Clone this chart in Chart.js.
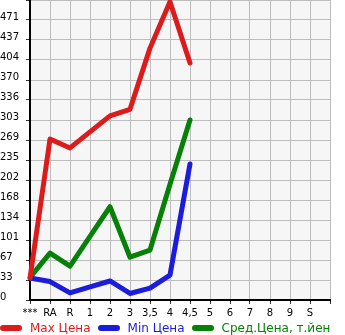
<!DOCTYPE html>
<html>
<head>
<meta charset="utf-8">
<script src="https://cdn.jsdelivr.net/npm/chart.js@4/dist/chart.umd.min.js"></script>
<style>
  html, body { margin: 0; padding: 0; background: #fff; }
  #wrap { position: relative; width: 345px; height: 335px; overflow: hidden; }
  #legend {
    position: absolute; left: 0; top: 320px; height: 15px;
    display: flex; align-items: center; white-space: nowrap;
    font: 12px "DejaVu Sans", sans-serif;
  }
  .pill { width: 22px; height: 6px; border-radius: 3px; margin-right: 8px; flex: none; }
  .lbl { margin-right: 7px; }
</style>
</head>
<body>
<div id="wrap">
  <canvas id="chart" width="345" height="335"></canvas>
  <div id="legend"></div>
</div>
<script>
var categories = ['***', 'RA', 'R', '1', '2', '3', '3,5', '4', '4,5', '5', '6', '7', '8', '9', 'S', ''];
var maxPrice = [37, 271, 256, 283, 310, 321, 424, 502, 399, null, null, null, null, null, null, null];
var minPrice = [37, 31, 12, 22, 32, 11, 20, 42, 229, null, null, null, null, null, null, null];
var avgPrice = [38, 79, 57, 107, 157, 72, 84, 195, 303, null, null, null, null, null, null, null];
var yTickLabels = ['0', '33', '67', '101', '134', '168', '202', '235', '269', '303', '336', '370', '404', '437', '471', ''];
var yMax = 505;

var series = [
  { label: 'Max Цена', data: maxPrice, color: '#dc1c1c' },
  { label: 'Min Цена', data: minPrice, color: '#1c1cdc' },
  { label: 'Сред.Цена, т.йен', data: avgPrice, color: '#068006' }
];

// plot background
var bgPlugin = {
  id: 'plotBg',
  beforeDraw: function(chart) {
    var a = chart.chartArea, ctx = chart.ctx;
    ctx.save();
    ctx.fillStyle = '#f6f6f6';
    ctx.fillRect(a.left, a.top, a.right - a.left, a.bottom - a.top);
    ctx.restore();
  }
};

new Chart(document.getElementById('chart').getContext('2d'), {
  type: 'line',
  data: {
    labels: categories,
    datasets: series.map(function(s) {
      return {
        label: s.label, data: s.data, borderColor: s.color, backgroundColor: s.color,
        borderWidth: 5, pointRadius: 0, tension: 0, spanGaps: false,
        borderJoinStyle: 'round', borderCapStyle: 'round'
      };
    })
  },
  options: {
    responsive: false,
    animation: false,
    layout: { padding: { left: 0, right: 15, top: 0, bottom: 0 } },
    plugins: { legend: { display: false }, tooltip: { enabled: false } },
    scales: {
      x: {
        offset: false,
        grid: { color: '#bdbdbd', lineWidth: 1, tickLength: 4, tickColor: '#333' },
        border: { color: '#000', width: 2 },
        ticks: { color: '#000', font: { family: 'DejaVu Sans', size: 10 }, padding: 3, maxRotation: 0, autoSkip: false },
        afterFit: function(s) { s.height = 35; }
      },
      y: {
        min: 0, max: yMax,
        grid: { color: '#bdbdbd', lineWidth: 1, tickLength: 4, tickColor: '#333' },
        border: { color: '#000', width: 2 },
        ticks: {
          color: '#000', font: { family: 'DejaVu Sans', size: 10 }, crossAlign: 'far', padding: 3,
          labelOffset: -3,
          callback: function(v, i) { return yTickLabels[i]; }
        },
        afterBuildTicks: function(s) {
          s.ticks = yTickLabels.map(function(t, i) { return { value: i * yMax / 15 }; });
        },
        // plot runs to the very top of the canvas
        afterFit: function(s) { s.width = 30; s.paddingTop = 0; s.paddingBottom = 0; }
      }
    }
  },
  plugins: [bgPlugin]
});

var legend = document.getElementById('legend');
series.forEach(function(s) {
  var p = document.createElement('span');
  p.className = 'pill';
  p.style.background = s.color;
  var t = document.createElement('span');
  t.className = 'lbl';
  t.style.color = s.color;
  t.textContent = s.label;
  legend.appendChild(p);
  legend.appendChild(t);
});
</script>
</body>
</html>
